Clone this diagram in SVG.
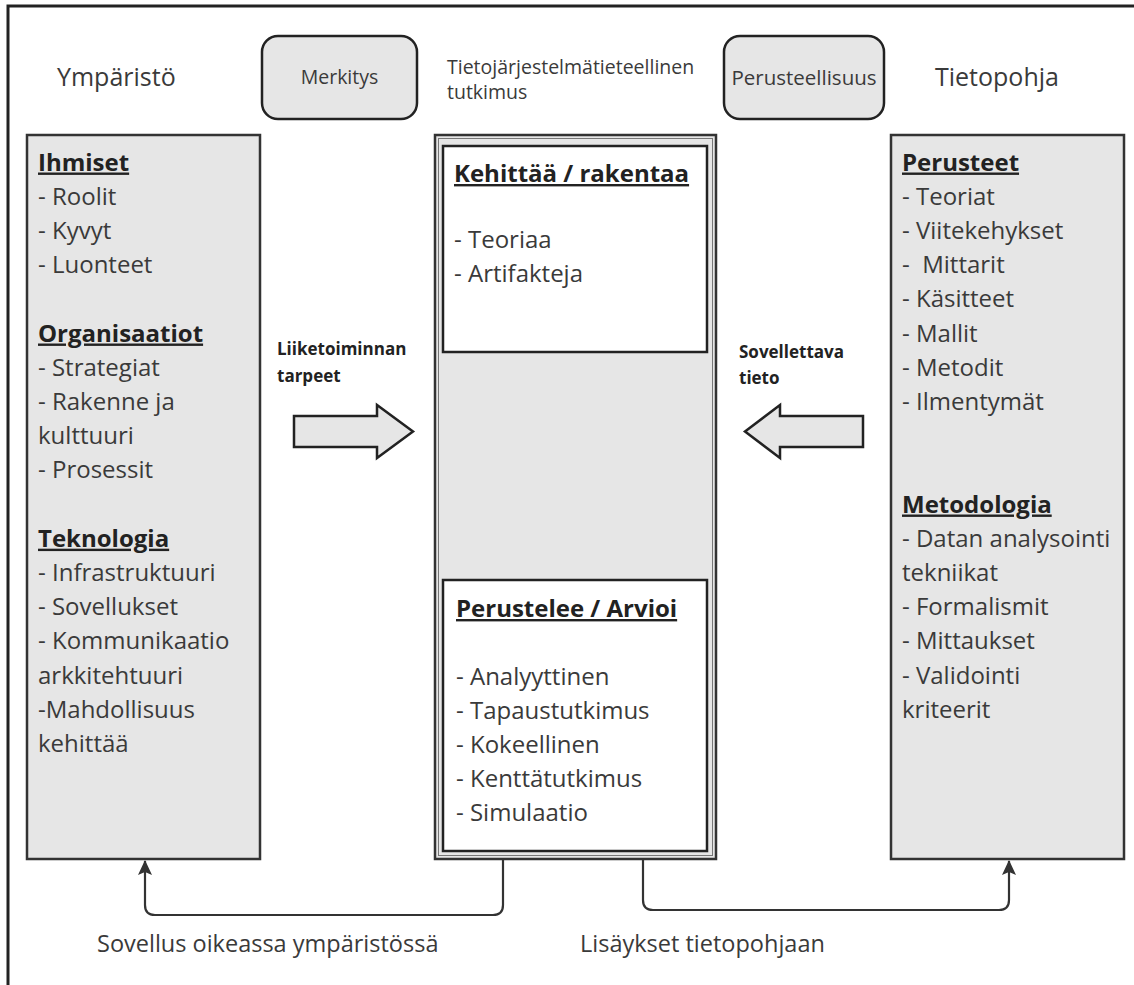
<svg xmlns="http://www.w3.org/2000/svg" width="1134" height="985" viewBox="0 0 1134 985">
<defs>
<style>
text{font-family:"Open Sans","Noto Sans","DejaVu Sans",sans-serif;fill:#3a3a3a;}
.t{font-size:24px;}
.h{font-size:24px;font-weight:bold;text-decoration:underline;fill:#222;}
.lbl{font-size:17px;font-weight:bold;fill:#222;}
.top{font-size:25px;}
.sm{font-size:19.5px;}
.bl{font-size:23.5px;}
.box{fill:#e6e6e6;stroke:#333;stroke-width:2.5;}
.inner{fill:#fff;stroke:#222;stroke-width:2.5;}
.pill{fill:#e6e6e6;stroke:#222;stroke-width:2.5;}
.big{fill:#e6e6e6;stroke:#222;stroke-width:2.5;stroke-linejoin:miter;}
.con{fill:none;stroke:#333;stroke-width:2.2;}
</style>
<marker id="ah" markerWidth="16" markerHeight="16" refX="14" refY="7" orient="auto" markerUnits="userSpaceOnUse" viewBox="0 0 16 14">
<path d="M0,0 L15,7 L0,14 L3,7 Z" fill="#333"/>
</marker>
</defs>
<rect width="1134" height="985" fill="#fff"/>
<path d="M8,985 V6 H1134" fill="none" stroke="#222" stroke-width="3"/>

<g id="title-ymparisto"><text class="top" x="57" y="86">Ympäristö</text></g>
<g id="merkitys"><rect class="pill" x="262" y="36" width="155" height="83" rx="16"/><text class="sm" x="339.5" y="84" text-anchor="middle">Merkitys</text></g>
<g id="title-center"><text class="sm" x="447" y="74">Tietojärjestelmätieteellinen</text><text class="sm" x="447" y="99">tutkimus</text></g>
<g id="perusteellisuus"><rect class="pill" x="724" y="36" width="160" height="83" rx="16"/><text x="804" y="85" text-anchor="middle" style="font-size:20.5px">Perusteellisuus</text></g>
<g id="title-tietopohja"><text class="top" x="935" y="86">Tietopohja</text></g>

<g id="ymparisto">
<rect class="box" x="27" y="135" width="233" height="724"/>
<text class="h" x="38" y="170.5">Ihmiset</text>
<text class="t"><tspan x="38" y="204.7">- Roolit</tspan><tspan x="38" y="238.9">- Kyvyt</tspan><tspan x="38" y="273.1">- Luonteet</tspan></text>
<text class="h" x="38" y="341.5">Organisaatiot</text>
<text class="t"><tspan x="38" y="375.7">- Strategiat</tspan><tspan x="38" y="409.9">- Rakenne ja</tspan><tspan x="38" y="444.1">kulttuuri</tspan><tspan x="38" y="478.3">- Prosessit</tspan></text>
<text class="h" x="38" y="546.7">Teknologia</text>
<text class="t"><tspan x="38" y="580.9">- Infrastruktuuri</tspan><tspan x="38" y="615.1">- Sovellukset</tspan><tspan x="38" y="649.3">- Kommunikaatio</tspan><tspan x="38" y="683.5">arkkitehtuuri</tspan><tspan x="38" y="717.7">-Mahdollisuus</tspan><tspan x="38" y="751.9">kehittää</tspan></text>
</g>

<g id="tutkimus">
<rect class="box" x="435" y="135" width="281" height="724" stroke-width="2.5"/>
<rect x="438.5" y="138.5" width="274" height="717" fill="none" stroke="#777" stroke-width="1"/>
</g>
<g id="kehittaa">
<rect class="inner" x="443" y="146" width="264" height="206"/>
<text class="h" x="454" y="182">Kehittää / rakentaa</text>
<text class="t"><tspan x="454" y="248">- Teoriaa</tspan><tspan x="454" y="282">- Artifakteja</tspan></text>
</g>
<g id="perustelee">
<rect class="inner" x="443" y="580" width="264" height="271"/>
<text class="h" x="456" y="617">Perustelee / Arvioi</text>
<text class="t"><tspan x="456" y="685">- Analyyttinen</tspan><tspan x="456" y="719">- Tapaustutkimus</tspan><tspan x="456" y="753">- Kokeellinen</tspan><tspan x="456" y="787">- Kenttätutkimus</tspan><tspan x="456" y="821">- Simulaatio</tspan></text>
</g>

<g id="tietopohja">
<rect class="box" x="891" y="135" width="233" height="724"/>
<text class="h" x="902" y="170.5">Perusteet</text>
<text class="t"><tspan x="902" y="204.7">- Teoriat</tspan><tspan x="902" y="238.9">- Viitekehykset</tspan><tspan x="902" y="273.1" xml:space="preserve">-  Mittarit</tspan><tspan x="902" y="307.3">- Käsitteet</tspan><tspan x="902" y="341.5">- Mallit</tspan><tspan x="902" y="375.7">- Metodit</tspan><tspan x="902" y="409.9">- Ilmentymät</tspan></text>
<text class="h" x="902" y="512.5">Metodologia</text>
<text class="t"><tspan x="902" y="546.7">- Datan analysointi</tspan><tspan x="902" y="580.9">tekniikat</tspan><tspan x="902" y="615.1">- Formalismit</tspan><tspan x="902" y="649.3">- Mittaukset</tspan><tspan x="902" y="683.5">- Validointi</tspan><tspan x="902" y="717.7">kriteerit</tspan></text>
</g>

<g id="liiketoiminta">
<text class="lbl"><tspan x="277" y="355">Liiketoiminnan</tspan><tspan x="277" y="382">tarpeet</tspan></text>
<path class="big" d="M294,416 H377 V405 L413,431.5 L377,458 V447 H294 Z"/>
</g>
<g id="sovellettava">
<text class="lbl"><tspan x="739" y="358">Sovellettava</tspan><tspan x="739" y="384">tieto</tspan></text>
<path class="big" d="M863,416 H780 V405 L745,431.5 L780,458 V447 H863 Z"/>
</g>

<g id="connectors">
<path class="con" d="M503,859 V905 Q503,915 493,915 H155 Q145,915 145,905 V861" marker-end="url(#ah)"/>
<path class="con" d="M643,859 V900 Q643,910 653,910 H999 Q1009,910 1009,900 V861" marker-end="url(#ah)"/>
</g>
<g id="bottom-labels">
<text class="bl" x="97" y="952">Sovellus oikeassa ympäristössä</text>
<text class="bl" x="580" y="952">Lisäykset tietopohjaan</text>
</g>
</svg>
